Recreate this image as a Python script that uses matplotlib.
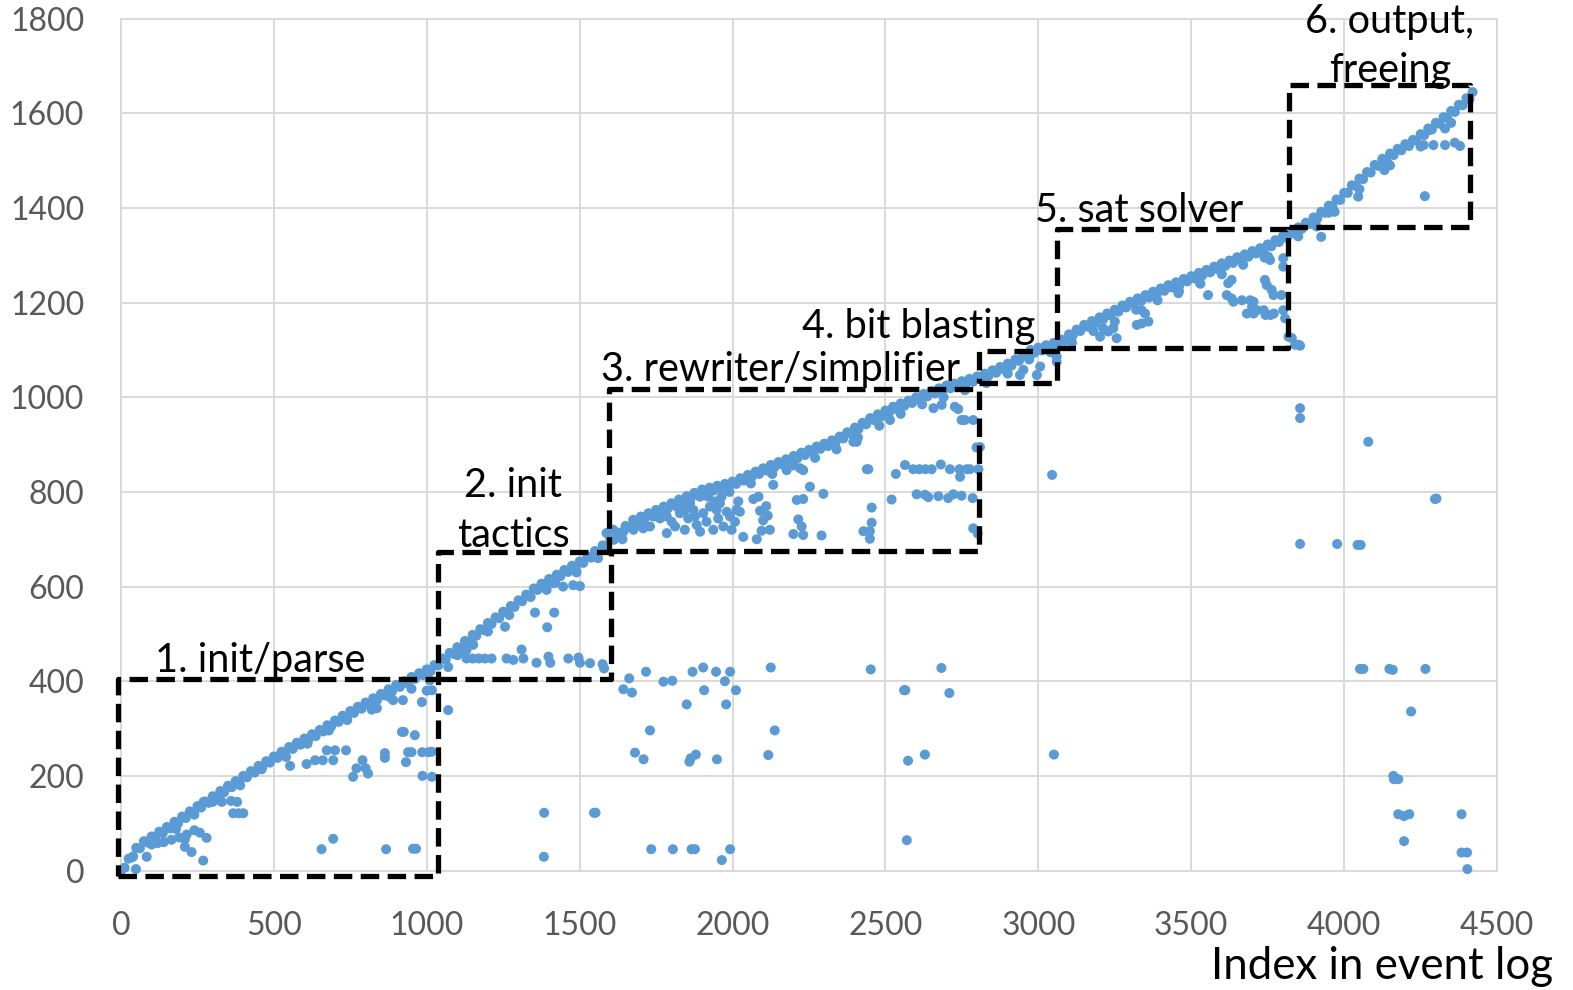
import matplotlib.pyplot as plt

plt.rcParams['font.family'] = ['Lato', 'DejaVu Sans']

# upper edge of the event band (index in event log, time)
diag_x = [0, 25, 50, 75, 100, 125, 150, 175, 200, 225, 250, 275, 300, 325, 350, 375, 400, 425, 450, 475, 500,
          525, 550, 575, 600, 625, 650, 675, 700, 725, 750, 775, 800, 825, 850, 875, 900, 925, 950, 975, 1000,
          1025, 1050, 1075, 1100, 1125, 1150, 1175, 1200, 1225, 1250, 1275, 1300, 1325, 1350, 1375, 1400, 1425, 1450, 1475, 1500,
          1525, 1550, 1575, 1600, 1625, 1650, 1675, 1700, 1725, 1750, 1775, 1800, 1825, 1850, 1875, 1900, 1925, 1950, 1975, 2000,
          2025, 2050, 2075, 2100, 2125, 2150, 2175, 2200, 2225, 2250, 2275, 2300, 2325, 2350, 2375, 2400, 2425, 2450, 2475, 2500,
          2525, 2550, 2575, 2600, 2625, 2650, 2675, 2700, 2725, 2750, 2775, 2800, 2825, 2850, 2875, 2900, 2925, 2950, 2975, 3000,
          3025, 3050, 3075, 3100, 3125, 3150, 3175, 3200, 3225, 3250, 3275, 3300, 3325, 3350, 3375, 3400, 3425, 3450, 3475, 3500,
          3525, 3550, 3575, 3600, 3625, 3650, 3675, 3700, 3725, 3750, 3775, 3800, 3825, 3850, 3875, 3900, 3925, 3950, 3975, 4000,
          4025, 4050, 4075, 4100, 4125, 4150, 4175, 4200, 4225, 4250, 4275, 4300, 4325, 4350, 4375, 4400, 4420]
diag_y = [0, 25, 48, 62, 72, 82, 92, 103, 114, 125, 136, 146, 157, 168, 179, 189, 200, 210, 221, 231, 241,
          251, 261, 270, 279, 288, 297, 307, 317, 327, 337, 346, 355, 364, 373, 383, 392, 400, 409, 417, 425,
          434, 448, 460, 472, 485, 498, 510, 523, 535, 547, 559, 571, 583, 596, 606, 616, 625, 635, 644, 653,
          664, 675, 687, 700, 714, 728, 741, 748, 755, 762, 769, 776, 784, 791, 798, 805, 809, 813, 817, 822,
          829, 836, 843, 850, 857, 863, 869, 876, 883, 889, 896, 902, 909, 917, 926, 936, 946, 956, 964, 972,
          980, 987, 993, 1000, 1007, 1013, 1019, 1025, 1029, 1034, 1039, 1044, 1050, 1057, 1064, 1071, 1080, 1090, 1100, 1105,
          1110, 1115, 1122, 1133, 1143, 1153, 1161, 1169, 1177, 1185, 1194, 1202, 1209, 1216, 1223, 1230, 1237, 1243, 1250, 1256,
          1263, 1269, 1276, 1283, 1289, 1296, 1302, 1309, 1315, 1323, 1332, 1341, 1350, 1359, 1369, 1380, 1392, 1405, 1418, 1432,
          1448, 1462, 1476, 1491, 1504, 1515, 1525, 1535, 1544, 1556, 1568, 1580, 1592, 1605, 1618, 1632, 1645]

# second, slightly lower row of the band
row2_x = [12, 37, 62, 87, 112, 137, 162, 187, 212, 237, 262, 287, 312, 337, 362, 387, 412, 437, 462, 487,
          512, 537, 562, 587, 612, 637, 662, 687, 712, 737, 762, 787, 812, 837, 862, 887, 912, 937, 962, 987,
          1012, 1037, 1062, 1087, 1112, 1137, 1162, 1187, 1212, 1237, 1262, 1287, 1312, 1337, 1362, 1387, 1412, 1437, 1462, 1487,
          1512, 1537, 1562, 1587, 1612, 1637, 1662, 1687, 1712, 1737, 1762, 1787, 1812, 1837, 1862, 1887, 1912, 1937, 1962, 1987,
          2012, 2037, 2062, 2087, 2112, 2137, 2162, 2187, 2212, 2237, 2262, 2287, 2312, 2337, 2362, 2387, 2412, 2437, 2462, 2487,
          2512, 2537, 2562, 2587, 2612, 2637, 2662, 2687, 2712, 2737, 2762, 2787, 2812, 2837, 2862, 2887, 2912, 2937, 2962, 2987,
          3012, 3037, 3062, 3087, 3112, 3137, 3162, 3187, 3212, 3237, 3262, 3287, 3312, 3337, 3362, 3387, 3412, 3437, 3462, 3487,
          3512, 3537, 3562, 3587, 3612, 3637, 3662, 3687, 3712, 3737, 3762, 3787, 3812, 3837, 3862, 3887, 3912, 3937, 3962, 3987,
          4012, 4037, 4062, 4087, 4112, 4137, 4162, 4187, 4212, 4237, 4262, 4287, 4312, 4337, 4362, 4387, 4410]
row2_y = [6, 28, 47, 59, 69, 79, 89, 100, 111, 122, 133, 143, 154, 165, 176, 186, 197, 207, 218, 228,
          238, 248, 257, 266, 275, 284, 294, 304, 314, 324, 333, 342, 351, 360, 370, 379, 388, 396, 405, 413,
          421, 433, 446, 458, 470, 483, 496, 508, 521, 533, 545, 557, 569, 581, 593, 603, 612, 622, 631, 640,
          650, 661, 673, 685, 699, 713, 726, 736, 743, 750, 757, 764, 772, 779, 786, 793, 799, 803, 807, 811,
          817, 824, 831, 838, 845, 852, 858, 864, 871, 878, 884, 891, 897, 905, 913, 923, 933, 943, 952, 960,
          968, 975, 982, 988, 995, 1002, 1008, 1014, 1019, 1023, 1028, 1033, 1039, 1045, 1052, 1059, 1067, 1077, 1087, 1094,
          1099, 1104, 1110, 1119, 1130, 1140, 1149, 1157, 1165, 1173, 1181, 1190, 1197, 1204, 1211, 1218, 1225, 1232, 1238, 1245,
          1251, 1258, 1264, 1271, 1278, 1284, 1291, 1297, 1304, 1311, 1319, 1328, 1337, 1346, 1356, 1366, 1378, 1390, 1403, 1417,
          1432, 1447, 1461, 1475, 1489, 1501, 1512, 1522, 1531, 1542, 1554, 1566, 1578, 1590, 1603, 1617, 1630]

# events just under the band
sub_x = [40, 110, 180, 240, 320, 390, 460, 540, 610, 680, 740, 820, 880, 950, 1010, 1000, 1070, 1130, 1200, 1270,
         1340, 1420, 1490, 1560, 1640, 1700, 1770, 1850, 1920, 1990, 2060, 2130, 2200, 2270, 2340, 2410, 2480, 2550,
         2620, 2690, 2760, 2830, 2900, 2970, 3040, 3110, 3180, 3250, 3320, 3390, 3460, 3530, 3600, 3670, 3740, 3850,
         3950, 4050, 4150, 4250, 4350,
         100, 120, 140, 165, 190, 215, 240, 270, 300, 330, 360, 380, 1100, 1120, 1392, 1414, 1446, 1479, 1501]
sub_y = [30, 62, 88, 118, 150, 180, 214, 240, 268, 296, 318, 340, 366, 384, 402, 380, 430, 466, 505, 540,
         578, 608, 630, 660, 700, 730, 750, 770, 790, 800, 818, 838, 856, 872, 890, 915, 940, 965,
         985, 1000, 1015, 1030, 1050, 1080, 1095, 1115, 1140, 1160, 1185, 1205, 1225, 1240, 1260, 1280, 1295, 1340,
         1390, 1440, 1490, 1530, 1580,
         55, 58, 60, 65, 70, 76, 85, 145, 145, 145, 147, 145, 455, 462, 593, 607, 600, 603, 601]

# cluster inside the rewriter/simplifier phase
b3_x = [1588, 1610, 1643, 1676, 1708, 1730, 1741, 1763, 1785, 1801, 1812, 1828, 1844, 1855, 1872, 1877, 1883, 1894,
        1904, 1915, 1926, 1937, 1948, 1953, 1964, 1970, 1981, 1992, 1997, 2008, 2013, 2024, 2019, 1943, 1959, 1894,
        1861, 1817, 1785, 1844,
        2035, 2079, 2095, 2122, 2199, 2231, 2291, 2215, 2226, 2210, 2231, 2253, 2297, 2133, 2068, 2085, 2090, 2110,
        2115, 2100, 2439, 2444, 2455, 2455, 2428, 2449, 2449, 2520, 2534, 2564, 2591, 2611, 2631, 2651, 2681, 2711,
        2742, 2766, 2744, 2776, 2804, 2602, 2629, 2640, 2673, 2705, 2722, 2749, 2785, 2798, 2809, 2749, 2760, 2787,
        2787, 2802, 2657, 2684, 2727, 2738, 2515, 2395, 2406, 2177, 2221, 2231]
b3_y = [713, 720, 716, 720, 723, 727, 748, 744, 713, 737, 727, 755, 720, 744, 762, 748, 730, 716,
        755, 737, 769, 720, 762, 744, 790, 727, 758, 748, 720, 737, 762, 758, 780, 780, 776, 790,
        776, 769, 748, 762,
        705, 700, 718, 720, 711, 709, 708, 742, 727, 783, 785, 811, 796, 815, 785, 790, 760, 770,
        750, 740, 848, 848, 767, 735, 717, 717, 701, 784, 838, 857, 848, 848, 848, 848, 858, 848,
        848, 848, 832, 848, 848, 795, 794, 789, 791, 787, 795, 792, 787, 894, 895, 952, 952, 952,
        723, 712, 977, 984, 980, 975, 952, 906, 906, 846, 850, 846]

# scattered events far from the band
far_x = [49, 84, 209, 209, 231, 269, 258, 280, 367, 385, 400, 656, 694, 867, 955, 965,
         607, 635, 660, 694, 553, 673, 700, 736, 759, 770, 790, 800, 808, 863, 863, 919, 925, 961,
         939, 950, 985, 1005, 1016, 932, 986, 1017, 1070, 890, 922, 837, 984, 1017,
         1130, 1150, 1170, 1190, 1212, 1261, 1283, 1316, 1359, 1398, 1404, 1463, 1496, 1501, 1534, 1575, 1580,
         1310, 1354, 1417, 1394, 1256, 1152,
         1662, 1643, 1671, 1717, 1774, 1803, 1850, 1869, 1904, 1946, 1992, 1975, 1907, 2011, 1979, 2125,
         1730, 2138, 1681, 1709, 1859, 1863, 1880, 1949, 2117,
         1384, 1547, 1552, 1383, 1734, 1805, 1866, 1877, 1992, 1965,
         2452, 2683, 2561, 2565, 2709, 2629, 2574, 3051, 2570, 3045,
         2940, 2951, 2995, 3006, 3060, 3060,
         3212, 3245, 3256, 3202, 3229, 3322, 3338, 3360, 3338, 3349, 3555, 3458, 3529, 3632, 3621, 3616, 3632,
         3638, 3666, 3693, 3704, 3699, 3715, 3737, 3743, 3759, 3770, 3682, 3704, 3741, 3747, 3763, 3769, 3752,
         3758, 3801, 3801, 3795, 3801, 3807, 3818, 3829, 3840, 3851, 3856, 3856, 3856,
         3925, 3910, 3969, 4046, 4264, 4330, 4362, 4379, 4330, 4281, 4292, 4260, 4126, 4143, 4132,
         4079, 4297, 4302, 3856, 3977, 4044, 4054, 4052, 4063, 4148, 4159, 4266, 4219, 4161, 4177, 4163,
         4177, 4196, 4213, 4384, 4196, 4384, 4402, 4403]
far_y = [3, 29, 66, 50, 39, 21, 80, 69, 121, 121, 121, 45, 67, 45, 46, 46,
         225, 233, 233, 233, 221, 254, 254, 254, 198, 216, 233, 216, 205, 248, 238, 293, 293, 286,
         250, 250, 250, 250, 251, 229, 200, 198, 339, 360, 360, 343, 356, 381,
         448, 448, 448, 448, 448, 448, 445, 448, 439, 452, 439, 448, 450, 439, 438, 436, 427,
         467, 545, 545, 514, 515, 477,
         406, 383, 376, 420, 399, 401, 351, 420, 429, 420, 420, 400, 381, 381, 351, 429,
         296, 296, 249, 235, 230, 237, 245, 235, 244,
         122, 122, 122, 29, 45, 45, 45, 45, 45, 22,
         425, 428, 381, 381, 375, 245, 232, 245, 64, 836,
         1047, 1058, 1047, 1065, 1075, 1086,
         1146, 1146, 1125, 1128, 1139, 1153, 1156, 1160, 1184, 1177, 1216, 1220, 1241, 1248, 1241, 1216, 1209,
         1202, 1205, 1205, 1202, 1191, 1184, 1184, 1174, 1174, 1177, 1177, 1177, 1248, 1237, 1227, 1216, 1297,
         1290, 1294, 1276, 1216, 1184, 1167, 1128, 1125, 1111, 1111, 1109, 977, 956,
         1339, 1361, 1392, 1424, 1425, 1533, 1538, 1531, 1568, 1565, 1533, 1533, 1501, 1494, 1480,
         906, 785, 786, 690, 690, 688, 688, 426, 426, 426, 424, 426, 336, 200, 193, 193,
         119, 115, 119, 119, 62, 38, 38, 3]

# phase boxes and their labels
box_x0 = [-9, 1036, 1597, 2805, 3062, 3820]
box_x1 = [1036, 1604, 2805, 3062, 3818, 4412]
box_y0 = [-12, 405, 675, 1030, 1104, 1360]
box_y1 = [405, 673, 1017, 1097, 1355, 1660]
phase_lines = [['1. init/parse'], ['2. init', 'tactics'], ['3. rewriter/simplifier'],
               ['4. bit blasting'], ['5. sat solver'], ['6. output,', 'freeing']]
label_pos = [(455, [420]), (1282, [790, 684]), (2158, [1034]), (2610, [1125]), (3328, [1371]),
             (4150, [1770, 1667])]

fig = plt.figure(figsize=(15.73, 9.9), dpi=100)
ax = fig.add_axes([0.0769, 0.1207, 0.8748, 0.8604])

all_x = diag_x + row2_x + sub_x + b3_x + far_x
all_y = diag_y + row2_y + sub_y + b3_y + far_y
ax.scatter(all_x, all_y, s=52, color='#5B9BD5', edgecolors='none', zorder=3, clip_on=False)

for x0, x1, y0, y1 in zip(box_x0, box_x1, box_y0, box_y1):
    ax.plot([x0, x1, x1, x0, x0], [y0, y0, y1, y1, y0], color='black', lw=3.8,
            ls=(0, (3.5, 1.6)), zorder=4, clip_on=False)

for lines, (lx, lys) in zip(phase_lines, label_pos):
    for s, ly in zip(lines, lys):
        ax.text(lx, ly, s, ha='center', va='baseline', fontsize=28.5, zorder=5)

ax.set_xlim(0, 4500)
ax.set_ylim(0, 1800)
ax.set_xticks(range(0, 4501, 500))
ax.set_yticks(range(0, 1801, 200))
ax.tick_params(length=0, labelsize=23, labelcolor='#595959')
ax.tick_params(axis='x', pad=29)
ax.tick_params(axis='y', pad=26.5)
ax.grid(True, color='#D9D9D9', lw=1.4)
ax.set_axisbelow(True)
for sp in ax.spines.values():
    sp.set_color('#D9D9D9')
    sp.set_linewidth(1.4)

fig.text(0.987, 0.011, 'Index in event log', ha='right', va='baseline', fontsize=31.5)

fig.savefig('out.png', dpi=100)
